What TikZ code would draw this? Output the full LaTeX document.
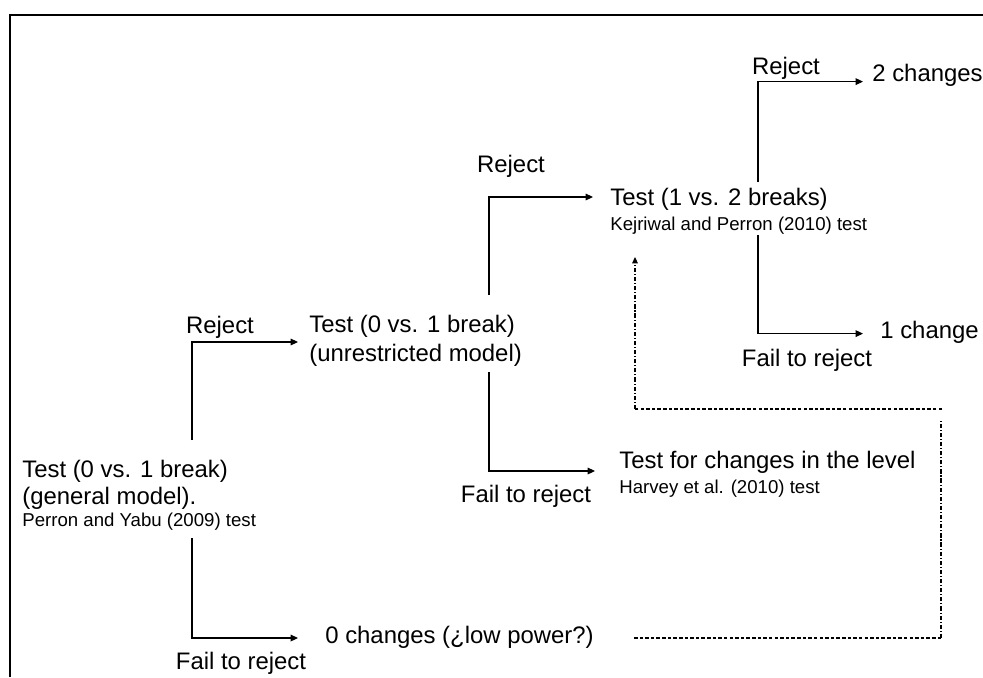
\documentclass[tikz,border=0pt]{standalone}
\usepackage{fontspec}
\setmainfont{Liberation Sans}
\usetikzlibrary{arrows.meta}
\newcommand\bigtxt{\fontsize{13.6}{13.8}\selectfont}
\newcommand\smalltxt{\fontsize{10.6}{12}\selectfont}
\tikzset{
  blk/.style={anchor=north west,align=left,inner sep=0pt,font=\bigtxt},
  res/.style={anchor=base west,inner sep=0pt,font=\bigtxt},
  lbl/.style={anchor=base,inner sep=0pt,font=\bigtxt},
  conn/.style={line width=.6pt,-{Triangle[length=4.2pt,width=3.8pt]}},
  fbdash/.style={line width=.6pt,dash pattern=on 2pt off 1.2pt},
  fbdot/.style={line width=.6pt,dash pattern=on 2.4pt off 1.1pt on .6pt off 1.1pt},
}

\begin{document}
\begin{tikzpicture}[x=.02cm,y=-.02cm]
\useasboundingbox (0,0) rectangle (983,677);
\draw[line width=1.3pt] (10,677)--(10,15)--(983,15);

\node[blk] (gen) at (22,460) {Test (0 vs. 1 break)\\[1.2pt](general model).\\[-1pt]{\smalltxt Perron and Yabu (2009) test}};
\node[blk] (unr) at (309,315) {Test (0 vs. 1 break)\\[2.6pt](unrestricted model)};
\node[blk] (kp) at (610,188) {Test (1 vs. 2 breaks)\\[.6pt]{\smalltxt Kejriwal and Perron (2010) test}};
\node[blk] (hlev) at (619,451) {Test for changes in the level\\[.4pt]{\smalltxt Harvey et al. (2010) test}};
\node[res] (two) at (872,81.6) {2 changes};
\node[res] (one) at (880,338.6) {1 change};
\node[res] (zero) at (325,643.6) {0 changes (¿low power?)};

\node[lbl] (rej1) at (220,333) {Reject};
\node[lbl] (fail1) at (241,669) {Fail to reject};
\node[lbl] (rej2) at (511,172) {Reject};
\node[lbl] (fail2) at (526,502) {Fail to reject};
\node[lbl] (rej3) at (786,74) {Reject};
\node[lbl] (fail3) at (807,366) {Fail to reject};

\draw[conn] ([shift={(170,-20)}]gen.north west) |- ([shift={(-11,27)}]unr.north west);
\draw[conn] ([shift={(170,78)}]gen.north west) |- ([shift={(-27,-5.6)}]zero.base west);
\draw[conn] ([shift={(180,-20)}]unr.north west) |- ([shift={(-17,9)}]kp.north west);
\draw[conn] ([shift={(180,57)}]unr.north west) |- ([shift={(-24,20)}]hlev.north west);
\draw[conn] ([shift={(148,-6)}]kp.north west) |- ([shift={(-9,0)}]two.base west);
\draw[conn] ([shift={(148,47)}]kp.north west) |- ([shift={(-17,-5)}]one.base west);

\coordinate (fbA) at (634,638);
\coordinate (fbB) at (941,638);
\coordinate (fbC) at (941,420);
\coordinate (fbD) at (942,409);
\coordinate (fbE) at (635,409);
\draw[fbdash] (fbA) -- (fbB);
\draw[fbdot] (fbB) -- (fbC);
\draw[fbdash] (fbD) -- (fbE);
\draw[fbdot,-{Triangle[length=3.6pt,width=3.2pt]}] (fbE) -- ([shift={(25,69)}]kp.north west);
\end{tikzpicture}
\end{document}
